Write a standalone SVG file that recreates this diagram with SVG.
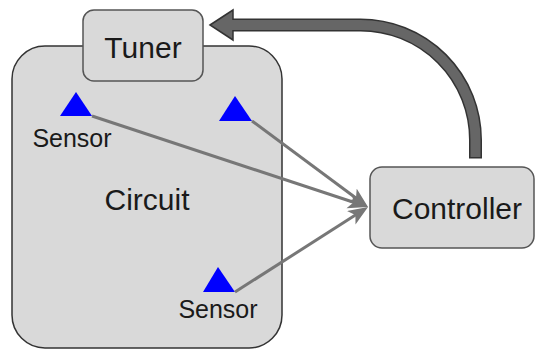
<svg xmlns="http://www.w3.org/2000/svg" width="536" height="350" viewBox="0 0 536 350">
  <style>
    .box { fill: #d9d9d9; stroke: #555; stroke-width: 1.5; }
    .label { font-family: "Liberation Sans", Arial, sans-serif; font-size: 30px; fill: #1a1a1a; text-anchor: middle; }
    .small { font-size: 25px; }
    .sensor { fill: #0000ff; }
    .link { stroke: #777; stroke-width: 3; fill: none; marker-end: url(#head); }
  </style>
  <defs>
    <marker id="head" markerUnits="userSpaceOnUse" markerWidth="22" markerHeight="18" refX="12" refY="8" orient="auto">
      <path d="M0,0 L20,8 L0,16 L5,8 z" fill="#777"/>
    </marker>
  </defs>

  <rect width="536" height="350" fill="#ffffff"/>

  <!-- circuit container -->
  <g id="circuit">
    <rect class="box" x="12" y="46" width="270" height="302" rx="33" ry="33" style="stroke:#333"/>
    <text class="label" x="147" y="210">Circuit</text>
  </g>

  <g id="tuner">
    <rect class="box" x="83" y="10" width="120" height="71" rx="11" ry="11"/>
    <text class="label" x="143" y="58">Tuner</text>
  </g>

  <g id="controller">
    <rect class="box" x="370" y="167" width="164" height="81" rx="12" ry="12"/>
    <text class="label" x="457" y="219">Controller</text>
  </g>

  <g id="sensor1">
    <polygon class="sensor" points="76,92 60,116 92,116"/>
    <text class="label small" x="72" y="147">Sensor</text>
  </g>

  <g id="sensor2">
    <polygon class="sensor" points="235,96 219,121 252,121"/>
  </g>

  <g id="sensor3">
    <polygon class="sensor" points="218,267 203,292 235,292"/>
    <text class="label small" x="218" y="318">Sensor</text>
  </g>

  <g id="connectors">
    <line class="link" x1="92" y1="116" x2="360.4" y2="204.5"/>
    <line class="link" x1="252" y1="121" x2="361.6" y2="202.2"/>
    <line class="link" x1="235" y1="292" x2="361.3" y2="211.3"/>

    <!-- feedback arrow from controller to tuner -->
    <path d="M475.5,158.5 L475.5,140 A115,115 0 0 0 360.5,25 L230,25" fill="none" stroke="#333" stroke-width="13"/>
    <polygon points="210,25 233,10 233,40" fill="#666" stroke="#333" stroke-width="1.5" stroke-linejoin="miter"/>
    <path d="M475.5,157 L475.5,140 A115,115 0 0 0 360.5,25 L232,25" fill="none" stroke="#666" stroke-width="10"/>
  </g>
</svg>
